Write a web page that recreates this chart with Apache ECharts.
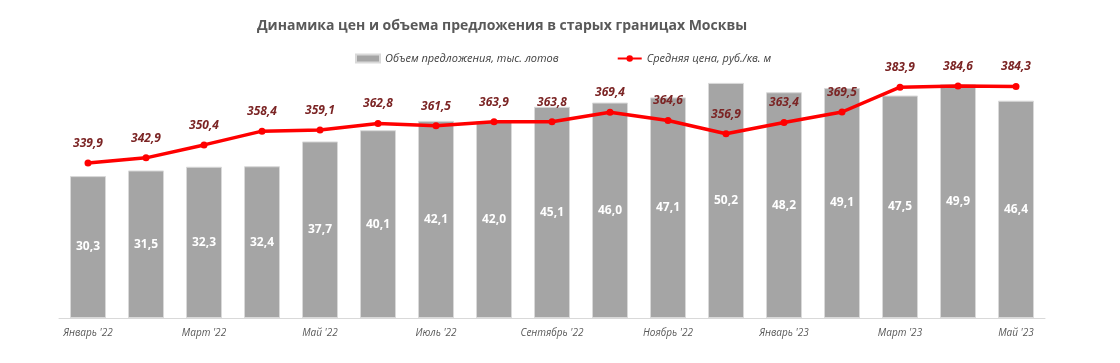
<!DOCTYPE html>
<html><head><meta charset="utf-8">
<script src="https://cdn.jsdelivr.net/npm/echarts@6/dist/echarts.min.js"></script>
<style>html,body{margin:0;padding:0;background:#fff}#c{width:1120px;height:363px}</style>
</head><body><div id="c"></div>
<script>
const categories = ["Январь '22","Февраль '22","Март '22","Апрель '22","Май '22","Июнь '22","Июль '22","Август '22","Сентябрь '22","Октябрь '22","Ноябрь '22","Декабрь '22","Январь '23","Февраль '23","Март '23","Апрель '23","Май '23"];
const volumes = [30.3,31.5,32.3,32.4,37.7,40.1,42.1,42.0,45.1,46.0,47.1,50.2,48.2,49.1,47.5,49.9,46.4];
const prices = [339.9,342.9,350.4,358.4,359.1,362.8,361.5,363.9,363.8,369.4,364.6,356.9,363.4,369.5,383.9,384.6,384.3];
const volumeName = "Объем предложения, тыс. лотов";
const priceName = "Средняя цена, руб./кв. м";
const titleText = "Динамика цен и объема предложения в старых границах Москвы";
const fmt = v => v.toFixed(1).replace('.', ',');
const font = "'Open Sans', 'Noto Sans', sans-serif";

const chart = echarts.init(document.getElementById('c'), null, {renderer: 'canvas'});
chart.setOption({
  animation: false,
  textStyle: {fontFamily: font},
  title: {
    text: titleText, left: 497, top: 14, textAlign: 'center',
    textStyle: {fontSize: 14, fontWeight: 'bold', color: '#595959', fontFamily: font}
  },
  legend: {
    top: 48, left: 350, itemGap: 58, itemWidth: 24, itemHeight: 8,
    textStyle: {fontSize: 11, fontStyle: 'italic', color: '#404040', fontFamily: font},
    data: [
      {name: volumeName, icon: 'rect'},
      {name: priceName}
    ]
  },
  grid: {left: 59, right: 75, top: 37, bottom: 45},
  xAxis: {
    type: 'category', data: categories,
    axisLine: {lineStyle: {color: '#d9d9d9', width: 1}},
    axisTick: {show: false},
    axisLabel: {interval: 1, fontSize: 10, fontStyle: 'italic', color: '#595959', margin: 10, fontFamily: font}
  },
  yAxis: [
    {type: 'value', min: 0, max: 60, show: false, splitLine: {show: false}},
    {type: 'value', min: 250, max: 413, show: false, splitLine: {show: false}}
  ],
  series: [
    {
      name: volumeName, type: 'bar', data: volumes, yAxisIndex: 0, barWidth: 36,
      itemStyle: {color: '#a5a5a5', borderColor: '#d9d9d9', borderWidth: 1},
      label: {show: true, position: 'inside', color: '#ffffff', fontWeight: 'bold', fontSize: 12,
        formatter: p => fmt(p.value), fontFamily: font}
    },
    {
      name: priceName, type: 'line', data: prices, yAxisIndex: 1,
      lineStyle: {color: '#ff0000', width: 3.5},
      itemStyle: {color: '#ff0000'},
      symbol: 'circle', symbolSize: 7,
      label: {show: true, position: 'top', distance: 10, color: '#7b2424', fontWeight: 'bold',
        fontStyle: 'italic', fontSize: 12, formatter: p => fmt(p.value), fontFamily: font}
    }
  ]
});
</script>
</body></html>
